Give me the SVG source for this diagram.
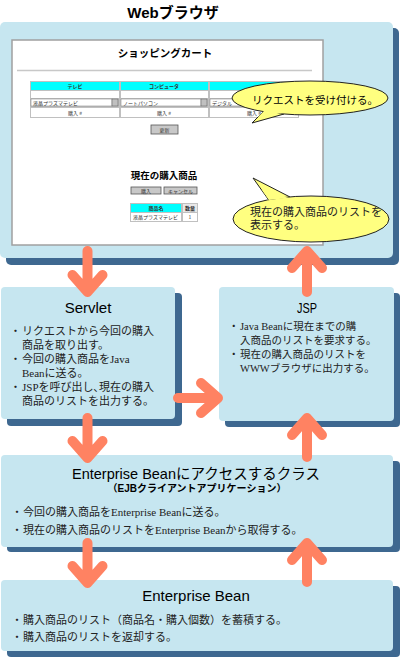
<svg xmlns="http://www.w3.org/2000/svg" width="401" height="658" viewBox="0 0 401 658">
<style>
.sans{font-family:'Liberation Sans','Noto Sans CJK JP',sans-serif;fill:#000}
.ser{font-family:'Liberation Serif','Noto Sans CJK JP',serif;fill:#222;font-size:11px}
.box{fill:#c6e6f0}
.sh{fill:#3e6890}
.arr{fill:none;stroke:#ff8262;stroke-width:10;stroke-linecap:round;stroke-linejoin:round}
.tiny{font-family:'Noto Sans CJK JP',sans-serif;font-size:5px;fill:#333}
.cyan{fill:#00ffff}
.cell{fill:#fff}
.btn{fill:#c8c8c8;stroke:#555;stroke-width:0.8}
.call{fill:#ffff80;stroke:#222;stroke-width:1}
</style>
<rect width="401" height="658" fill="#fff"/>

<g id="browser">
  <text class="sans" x="173" y="18" font-size="15" font-weight="bold" text-anchor="middle">Webブラウザ</text>
  <rect class="sh" x="6" y="28" width="393" height="237" rx="5"/>
  <rect class="box" x="0" y="22" width="393" height="236" rx="5"/>
  <g id="screenshot">
    <rect x="12" y="40" width="311" height="205" fill="#fff" stroke="#a0a0a0" stroke-width="1.5"/>
    <text class="sans" x="165" y="57" font-size="10.5" font-weight="bold" text-anchor="middle">ショッピングカート</text>
    <line x1="17" y1="70.5" x2="312" y2="70.5" stroke="#c8c8c8" stroke-width="1.5"/>
    <rect x="30" y="81" width="269" height="37" fill="#c0c0c0"/>
    <rect class="cyan" x="31" y="82" width="88" height="8"/>
    <rect class="cyan" x="121" y="82" width="87" height="8"/>
    <rect class="cyan" x="210" y="82" width="88" height="8"/>
    <text class="tiny" x="75" y="88" text-anchor="middle" font-weight="bold">テレビ</text>
    <text class="tiny" x="164" y="88" text-anchor="middle" font-weight="bold">コンピュータ</text>
    <rect class="cell" x="31" y="91" width="88" height="7"/>
    <rect class="cell" x="121" y="91" width="87" height="7"/>
    <rect class="cell" x="210" y="91" width="88" height="7"/>
    <rect class="cell" x="31" y="99" width="81" height="7" stroke="#777" stroke-width="0.5"/>
    <rect x="112" y="99" width="6" height="7" fill="#c0c0c0" stroke="#555" stroke-width="0.5"/>
    <text class="tiny" x="33" y="104.5">液晶プラズマテレビ</text>
    <rect class="cell" x="121" y="99" width="80" height="7" stroke="#777" stroke-width="0.5"/>
    <rect x="201" y="99" width="6" height="7" fill="#c0c0c0" stroke="#555" stroke-width="0.5"/>
    <text class="tiny" x="123" y="104.5">ノートパソコン</text>
    <rect class="cell" x="210" y="99" width="81" height="7" stroke="#777" stroke-width="0.5"/>
    <text class="tiny" x="212" y="104.5">デジタル</text>
    <rect class="cell" x="31" y="108" width="88" height="9"/>
    <rect class="cell" x="121" y="108" width="87" height="9"/>
    <rect class="cell" x="210" y="108" width="88" height="9"/>
    <text class="tiny" x="75" y="114.5" text-anchor="middle">購入 #</text>
    <text class="tiny" x="164" y="114.5" text-anchor="middle">購入 #</text>
    <text class="tiny" x="254" y="114.5" text-anchor="middle">購入 #</text>
    <rect class="btn" x="151" y="125" width="27" height="9"/>
    <text class="tiny" x="164.5" y="131.5" text-anchor="middle">更新</text>
    <text class="sans" x="164" y="179" font-size="9.5" font-weight="bold" text-anchor="middle">現在の購入商品</text>
    <rect class="btn" x="131" y="187" width="30" height="7"/>
    <text class="tiny" x="146" y="192.5" text-anchor="middle">購入</text>
    <rect class="btn" x="164" y="187" width="33" height="7"/>
    <text class="tiny" x="180.5" y="192.5" text-anchor="middle">キャンセル</text>
    <rect x="130" y="203" width="68" height="19" fill="#c0c0c0"/>
    <rect class="cyan" x="131" y="204" width="50" height="8"/>
    <rect x="183" y="204" width="14" height="8" fill="#e8e8e8"/>
    <text class="tiny" x="156" y="210" text-anchor="middle" font-weight="bold">商品名</text>
    <text class="tiny" x="190" y="210" text-anchor="middle" font-weight="bold">数量</text>
    <rect class="cell" x="131" y="213" width="50" height="8"/>
    <rect class="cell" x="183" y="213" width="14" height="8"/>
    <text class="tiny" x="133" y="219">液晶プラズマテレビ</text>
    <text class="tiny" x="190" y="219" text-anchor="middle">1</text>
  </g>
  <g id="callout-request">
    <path class="call" d="M264,111 L252,123 L284,114"/>
    <ellipse class="call" cx="310" cy="98" rx="78" ry="17"/>
    <path d="M265,110 L258,117 L283,113 Z" fill="#ffff80"/>
    <text class="sans" x="252" y="104" font-size="10.5" fill="#222">リクエストを受け付ける。</text>
  </g>
  <g id="callout-display">
    <path class="call" d="M268,199 L253,178 L290,197"/>
    <ellipse class="call" cx="311" cy="219" rx="78" ry="23"/>
    <path d="M269,200 L262,190 L289,198 Z" fill="#ffff80"/>
    <text class="ser" x="250" y="216">現在の購入商品のリストを</text>
    <text class="ser" x="250" y="229">表示する。</text>
  </g>
</g>

<g id="servlet">
  <rect class="sh" x="7" y="293" width="175" height="133" rx="4"/>
  <rect class="box" x="1" y="287" width="174" height="132" rx="4"/>
  <text class="sans" x="88" y="313" font-size="15" text-anchor="middle">Servlet</text>
  <g class="ser">
    <text x="10" y="335">・</text><text x="22" y="335">リクエストから今回の購入</text>
    <text x="22" y="349">商品を取り出す。</text>
    <text x="10" y="363">・</text><text x="22" y="363">今回の購入商品をJava</text>
    <text x="22" y="377">Beanに送る。</text>
    <text x="10" y="391">・</text><text x="22" y="391">JSPを呼び出し､現在の購入</text>
    <text x="22" y="405">商品のリストを出力する。</text>
  </g>
</g>

<g id="jsp">
  <rect class="sh" x="225" y="293" width="175" height="134" rx="4"/>
  <rect class="box" x="219" y="287" width="175" height="134" rx="4"/>
  <text class="sans" x="307" y="313" font-size="14" text-anchor="middle" textLength="20" lengthAdjust="spacingAndGlyphs">JSP</text>
  <g class="ser" style="font-size:10.5px">
    <text x="228.5" y="330">・</text><text x="240" y="330">Java Beanに現在までの購</text>
    <text x="240" y="344">入商品のリストを要求する。</text>
    <text x="228.5" y="358">・</text><text x="240" y="358">現在の購入商品のリストを</text>
    <text x="240" y="372">WWWブラウザに出力する。</text>
  </g>
</g>

<g id="ejb-client">
  <rect class="sh" x="7" y="461" width="393" height="91" rx="4"/>
  <rect class="box" x="1" y="455" width="392" height="92" rx="4"/>
  <text class="sans" x="196" y="479" font-size="14.5" text-anchor="middle">Enterprise Beanにアクセスするクラス</text>
  <text class="sans" x="197" y="492" font-size="10" font-weight="bold" text-anchor="middle">（EJBクライアントアプリケーション）</text>
  <g class="ser">
    <text x="11.5" y="516">・</text><text x="23" y="516">今回の購入商品をEnterprise Beanに送る。</text>
    <text x="11.5" y="534">・</text><text x="23" y="534">現在の購入商品のリストをEnterprise Beanから取得する。</text>
  </g>
</g>

<g id="enterprise-bean">
  <rect class="sh" x="7" y="586" width="393" height="71" rx="4"/>
  <rect class="box" x="1" y="580" width="392" height="71" rx="4"/>
  <text class="sans" x="196" y="601" font-size="15" text-anchor="middle">Enterprise Bean</text>
  <g class="ser">
    <text x="11.5" y="624">・</text><text x="23" y="624">購入商品のリスト（商品名・購入個数）を蓄積する。</text>
    <text x="11.5" y="641">・</text><text x="23" y="641">購入商品のリストを返却する。</text>
  </g>
</g>

<g id="connectors">
  <path class="arr" d="M87.5,251 V290 M72.5,275 L87.5,292 L102.5,275"/>
  <path class="arr" d="M307,292 V253 M292,268 L307,251 L322,268"/>
  <path class="arr" d="M178,398 H216 M201,383 L218,398 L201,413"/>
  <path class="arr" d="M87.5,418 V456 M72.5,441 L87.5,458 L102.5,441"/>
  <path class="arr" d="M307,457 V420 M292,435 L307,418 L322,435"/>
  <path class="arr" d="M87.5,543 V581 M72.5,566 L87.5,583 L102.5,566"/>
  <path class="arr" d="M307,582 V545 M292,560 L307,543 L322,560"/>
</g>
</svg>
